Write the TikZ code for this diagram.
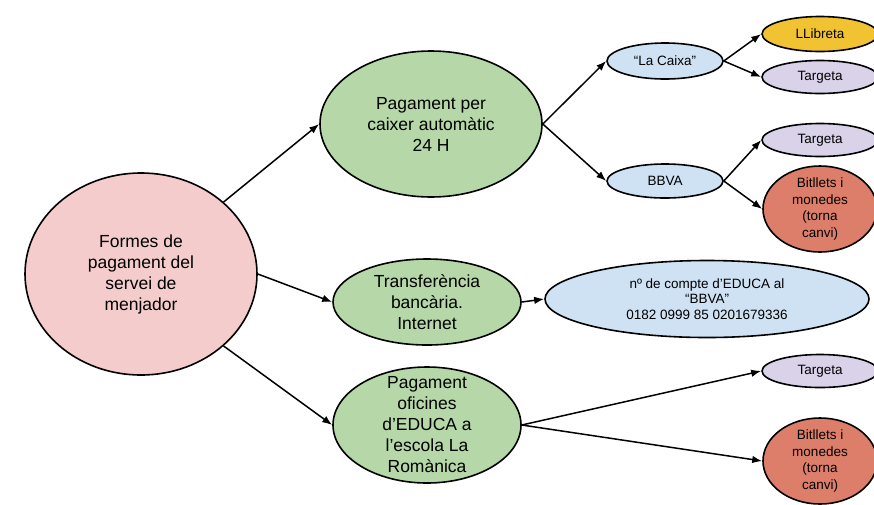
\documentclass[tikz,border=0pt]{standalone}
\usepackage{fontspec}
\setmainfont{Liberation Sans}
\usetikzlibrary{shapes.geometric,arrows.meta}
\definecolor{rosa}{HTML}{F4CCCC}
\definecolor{verd}{HTML}{B6D7A8}
\definecolor{blau}{HTML}{CFE2F3}
\definecolor{groc}{HTML}{F1C232}
\definecolor{lila}{HTML}{D9D2E9}
\definecolor{vermell}{HTML}{DD7E6B}
\begin{document}
\begin{tikzpicture}[x=1pt,y=-1pt,
    bombolla/.style={ellipse,draw=black,line width=1.6pt,inner sep=-30pt,align=center,text=black},
    gran/.style={bombolla,font=\fontsize{17.5}{21}\selectfont},
    petit/.style={bombolla,font=\fontsize{13.5}{16.5}\selectfont,minimum width=116pt},
    fletxa/.style={line width=1.5pt,-{Latex[length=10pt,width=7.5pt]}}]
    \fill[white] (0,0) rectangle (874,504);
    \clip (0,0) rectangle (874,504);
    % arrel
    \node[gran,fill=rosa,minimum width=232pt,minimum height=202pt] (formes) at (141,274) {Formes de\\pagament del\\servei de\\menjador};
    % tres maneres
    \node[gran,fill=verd,minimum width=222pt,minimum height=146pt] (caixer) at (431,124) {Pagament per\\caixer automàtic\\24 H};
    \node[gran,fill=verd,minimum width=188pt,minimum height=86pt] (transf) at (427,302) {Transferència\\bancària.\\Internet};
    \node[gran,fill=verd,minimum width=188pt,minimum height=116pt] (oficines) at (427,425) {Pagament\\oficines\\d’EDUCA a\\l’escola La\\Romànica};
    % bancs
    \node[petit,fill=blau,minimum height=36pt] (lacaixa) at (665,61) {“La Caixa”};
    \node[petit,fill=blau,minimum height=34pt] (bbva) at (665,181) {BBVA};
    \node[bombolla,fill=blau,font=\fontsize{13.5}{15.5}\selectfont,minimum width=324pt,minimum height=77pt] (compte) at (707,299) {nº de compte d’EDUCA al\\“BBVA”\\0182 0999 85 0201679336};
    % fulles
    \node[petit,fill=groc,minimum height=35pt] (llibreta) at (820,34) {LLibreta};
    \node[petit,fill=lila,minimum height=33pt] (targetaA) at (820,77) {Targeta};
    \node[petit,fill=lila,minimum height=33pt] (targetaB) at (820,140) {Targeta};
    \node[petit,fill=vermell,minimum width=114pt,minimum height=86pt] (bitlletsA) at (820,209) {Bitllets i\\monedes\\(torna\\canvi)};
    \node[petit,fill=lila,minimum height=33pt] (targetaC) at (820,371) {Targeta};
    \node[petit,fill=vermell,minimum width=114pt,minimum height=86pt] (bitlletsB) at (820,461) {Bitllets i\\monedes\\(torna\\canvi)};
    % fletxes
    \draw[fletxa] (formes.north east) -- (caixer.west);
    \draw[fletxa] (formes.east) -- (transf.west);
    \draw[fletxa] (formes.south east) -- (oficines.west);
    \draw[fletxa] (caixer.east) -- (lacaixa.west);
    \draw[fletxa] (caixer.east) -- (bbva.west);
    \draw[fletxa] (lacaixa.east) -- (llibreta.west);
    \draw[fletxa] (lacaixa.east) -- (targetaA.west);
    \draw[fletxa] (bbva.east) -- (targetaB.west);
    \draw[fletxa] (bbva.east) -- (bitlletsA.west);
    \draw[fletxa] (transf.east) -- (compte.west);
    \draw[fletxa] (oficines.east) -- (targetaC.west);
    \draw[fletxa] (oficines.east) -- (bitlletsB.west);
\end{tikzpicture}
\end{document}
